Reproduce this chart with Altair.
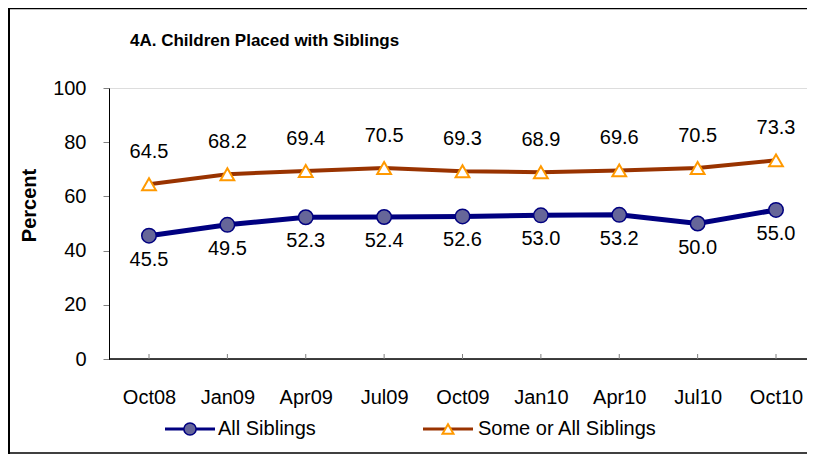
import altair as alt
import pandas as pd

periods = ["Oct08", "Jan09", "Apr09", "Jul09", "Oct09", "Jan10", "Apr10", "Jul10", "Oct10"]
all_siblings = [45.5, 49.5, 52.3, 52.4, 52.6, 53.0, 53.2, 50.0, 55.0]
some_or_all = [64.5, 68.2, 69.4, 70.5, 69.3, 68.9, 69.6, 70.5, 73.3]
series_names = ["All Siblings", "Some or All Siblings"]
title_text = "4A. Children Placed with Siblings"

rows = []
for p, v in zip(periods, all_siblings):
    rows.append({"period": p, "series": series_names[0], "value": v})
for p, v in zip(periods, some_or_all):
    rows.append({"period": p, "series": series_names[1], "value": v})
df = pd.DataFrame(rows)
one = pd.DataFrame({"k": [0]})

W, H = 698, 271
BOTTOM = 95
FONT = "Liberation Sans"

x_scale = alt.Scale(type="point", range=[40, 667], padding=0)
x_enc = alt.X(
    "period:N", sort=periods, scale=x_scale,
    axis=alt.Axis(title=None, labelAngle=0, ticks=False, tickSize=0, domain=False, labelPadding=28,
                  labelFontSize=20, labelFont=FONT, labelColor="black", grid=False),
)
y_enc = alt.Y(
    "value:Q",
    scale=alt.Scale(domain=[0, 100], nice=False),
    axis=alt.Axis(title="Percent", values=[0, 20, 40, 60, 80, 100], tickSize=6,
                  tickColor="#808080", labelPadding=17, labelFontSize=20, labelFont=FONT,
                  labelColor="black", domainColor="black", grid=False,
                  titleFontSize=20, titleFont=FONT, titleFontWeight="bold",
                  titleX=-80, titleY=117, titleBaseline="middle", titleColor="black"),
)

base = alt.Chart(df).encode(x=x_enc, y=y_enc)

all_f = alt.datum.series == series_names[0]
some_f = alt.datum.series == series_names[1]

# outer frame (left, top, bottom edges; right edge lies beyond the picture)
frame = [
    alt.Chart(one).mark_rule(color="black", strokeWidth=2).encode(
        x=alt.value(-100), y=alt.value(-80), y2=alt.value(H + BOTTOM)),
    alt.Chart(one).mark_rule(color="black", strokeWidth=1.5).encode(
        x=alt.value(-101), x2=alt.value(W), y=alt.value(-79.5)),
    alt.Chart(one).mark_rule(color="black", strokeWidth=1.5).encode(
        x=alt.value(-101), x2=alt.value(W), y=alt.value(H + BOTTOM - 1)),
]

x_domain = alt.Chart(one).mark_rule(color="black", strokeWidth=1.5).encode(
    x=alt.value(0), x2=alt.value(W), y=alt.value(H))

xticks = alt.Chart(pd.DataFrame({"period": periods})).mark_rule(color="#808080", strokeWidth=1).encode(
    x=alt.X("period:N", sort=periods, scale=x_scale), y=alt.value(H - 5), y2=alt.value(H)
)

line_all = base.transform_filter(all_f).mark_line(color="#000080", strokeWidth=5)
pts_all = base.transform_filter(all_f).mark_point(
    shape="circle", filled=True, fill="#666699", stroke="#000080", strokeWidth=1.5, size=210, opacity=1
)
lab_all = base.transform_filter(all_f).mark_text(
    dy=24, fontSize=20, font=FONT, color="black", baseline="middle"
).encode(text=alt.Text("value:Q", format=".1f"))

line_some = base.transform_filter(some_f).mark_line(color="#993300", strokeWidth=4)
pts_some = base.transform_filter(some_f).mark_point(
    shape="triangle-up", filled=True, fill="white", stroke="#FF9900", strokeWidth=2, size=190, opacity=1
)
lab_some = base.transform_filter(some_f).mark_text(
    dy=-32, fontSize=20, font=FONT, color="black", baseline="middle"
).encode(text=alt.Text("value:Q", format=".1f"))

title = alt.Chart(one).mark_text(
    align="left", baseline="alphabetic", fontSize=17, fontWeight="bold",
    font=FONT, color="black"
).encode(x=alt.value(21), y=alt.value(-42), text=alt.value(title_text))

LY = 341
leg = []
leg.append(alt.Chart(one).mark_rule(color="#000080", strokeWidth=3).encode(
    x=alt.value(56), x2=alt.value(106), y=alt.value(LY)))
leg.append(alt.Chart(one).mark_point(shape="circle", filled=True, fill="#666699", stroke="#000080",
                                     strokeWidth=1.5, size=150, opacity=1).encode(
    x=alt.value(81), y=alt.value(LY)))
leg.append(alt.Chart(one).mark_text(align="left", baseline="middle", fontSize=20, font=FONT,
                                    color="black").encode(
    x=alt.value(109), y=alt.value(LY), text=alt.value(series_names[0])))
leg.append(alt.Chart(one).mark_rule(color="#993300", strokeWidth=3).encode(
    x=alt.value(314), x2=alt.value(364), y=alt.value(LY)))
leg.append(alt.Chart(one).mark_point(shape="triangle-up", filled=True, fill="white", stroke="#FF9900",
                                     strokeWidth=2, size=120, opacity=1).encode(
    x=alt.value(339), y=alt.value(LY)))
leg.append(alt.Chart(one).mark_text(align="left", baseline="middle", fontSize=20, font=FONT,
                                    color="black").encode(
    x=alt.value(369), y=alt.value(LY), text=alt.value(series_names[1])))

chart = alt.layer(
    *frame, x_domain, line_all, line_some, pts_all, pts_some, lab_all, lab_some, xticks, title, *leg
).properties(
    width=W, height=H,
    padding={"left": 101, "top": 80, "right": 0, "bottom": BOTTOM},
    autosize=alt.AutoSizeParams(type="none"),
).configure_view(stroke=None).configure(background="white")

chart.save("out.html", embed_options={"renderer": "svg", "actions": False})
